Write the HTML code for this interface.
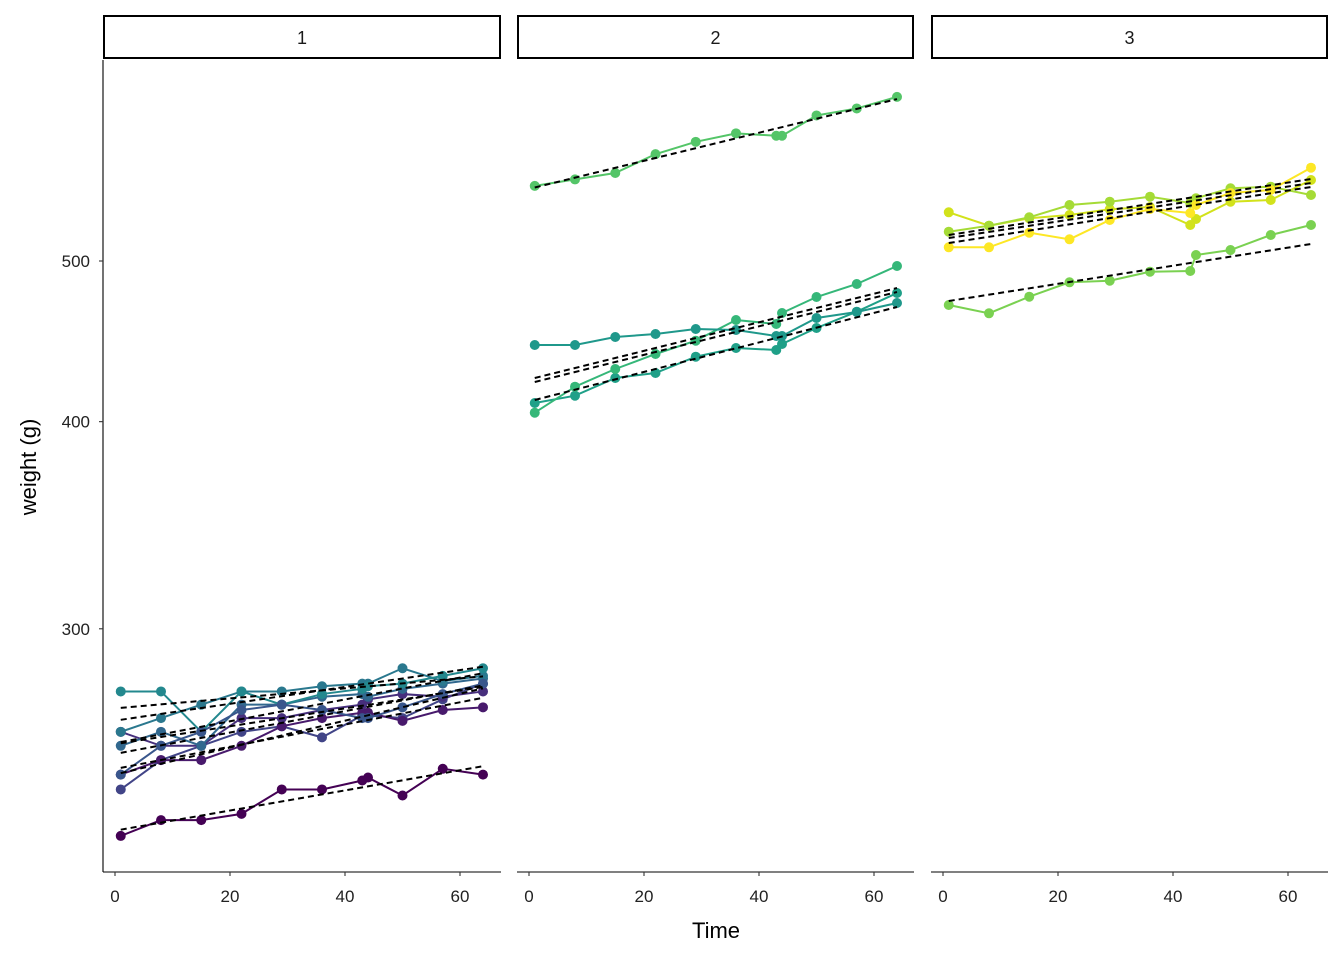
<!DOCTYPE html>
<html><head><meta charset="utf-8">
<style>html,body{margin:0;padding:0;background:#fff}svg{display:block}text{font-family:"Liberation Sans",sans-serif}</style>
</head><body>
<svg id="s" width="1344" height="960" xmlns="http://www.w3.org/2000/svg"></svg>
<script>
const T=[1,8,15,22,29,36,43,44,50,57,64];
const Y=w=>261-720*Math.log(w/500);
const D={1:[240,250,255,260,262,258,266,266,265,272,278],2:[225,230,230,232,240,240,243,244,238,247,245],3:[245,250,250,255,262,265,267,267,264,268,269],4:[260,255,255,265,265,268,270,272,274,273,275],5:[255,260,255,270,270,273,274,273,276,278,280],6:[260,265,270,275,275,277,278,278,284,279,281],7:[275,275,260,275,270,274,276,277,278,281,284],8:[245,255,260,268,270,268,265,265,269,274,278],12:[555,560,565,580,590,597,595,595,612,618,628]};
const P={};
for(const k in D)P[k]=D[k].map(Y);
P[11]=[345,345,337,334,329,330,336,336,318,312,303];
P[9]=[403,395.7,378,373,356.7,348,350,344,328,311.7,293];
P[10]=[412.7,386.7,369,354,340.7,320,324,313,297,284,266];
P[15]=[231.7,225.7,217.3,205,201.7,196.7,203,198.3,188.3,186.7,195];
P[14]=[212.3,225.7,218.3,215,209.3,207,225,219,201.7,200,180];
P[16]=[247.3,247.3,232.7,239.3,220,209,213,205,193,190,167.7];
P[13]=[305,313.3,296.7,282.3,280.7,271.7,271,255,250,235,225];
const FIT={11:[378,288],10:[382,292],9:[400,307],13:[301,244],14:[235,179],15:[238,183],16:[243,187]};
const order=[2,3,4,1,8,5,6,7,11,9,10,12,13,15,14,16];
const pal=["#440154","#481A6C","#472F7D","#414487","#39568C","#31688E","#2A788E","#23888E","#1F988B","#1FA088","#35B779","#54C568","#7AD151","#A5DB36","#D2E21B","#FDE725"];
const col={};order.forEach((r,i)=>col[r]=pal[i]);
const panels=[{x0:103,x1:501,o:115,rats:[1,2,3,4,5,6,7,8],lab:"1"},{x0:517,x1:914,o:529,rats:[9,10,11,12],lab:"2"},{x0:931,x1:1328,o:943,rats:[13,14,15,16],lab:"3"}];
let h='';
h+=`<line x1="103" y1="60" x2="103" y2="872" stroke="#000" stroke-width="1.1"/>`;
[[500,"500"],[400,"400"],[300,"300"]].forEach(([v,l])=>{const y=Y(v);h+=`<line x1="99" y1="${y}" x2="103" y2="${y}" stroke="#333" stroke-width="1.1"/><text x="90" y="${y+6}" font-size="17" text-anchor="end" fill="#222">${l}</text>`;});
h+=`<text transform="translate(36,467) rotate(-90)" font-size="22" text-anchor="middle">weight (g)</text>`;
h+=`<text x="716" y="938" font-size="22" text-anchor="middle">Time</text>`;
panels.forEach(p=>{
 const X=t=>p.o+t*5.75;
 h+=`<rect x="${p.x0+1}" y="16" width="${p.x1-p.x0-2}" height="42" fill="#fff" stroke="#000" stroke-width="2"/><text x="${(p.x0+p.x1)/2}" y="44" font-size="18" text-anchor="middle" fill="#1a1a1a">${p.lab}</text>`;
 h+=`<line x1="${p.x0}" y1="872" x2="${p.x1}" y2="872" stroke="#000" stroke-width="1.1"/>`;
 [0,20,40,60].forEach(t=>{h+=`<line x1="${X(t)}" y1="872" x2="${X(t)}" y2="876" stroke="#333" stroke-width="1.1"/><text x="${X(t)}" y="902" font-size="17" text-anchor="middle" fill="#222">${t}</text>`;});
 p.rats.forEach(r=>{
  const w=P[r],c=col[r];
  h+=`<polyline fill="none" stroke="${c}" stroke-width="2" points="${T.map((t,i)=>X(t)+','+w[i]).join(' ')}"/>`;
  T.forEach((t,i)=>{h+=`<circle cx="${X(t)}" cy="${w[i]}" r="5" fill="${c}"/>`;});
 });
 p.rats.forEach(r=>{
  let y1,y2;
  if(FIT[r]){[y1,y2]=FIT[r];}else{
  const w=P[r],n=T.length;
  const mx=T.reduce((a,b)=>a+b)/n,my=w.reduce((a,b)=>a+b)/n;
  let sxy=0,sxx=0;T.forEach((t,i)=>{sxy+=(t-mx)*(w[i]-my);sxx+=(t-mx)*(t-mx);});
  const b=sxy/sxx,a=my-b*mx;y1=a+b;y2=a+b*64;}
  h+=`<line x1="${X(1)}" y1="${y1}" x2="${X(64)}" y2="${y2}" stroke="#000" stroke-width="2" stroke-dasharray="6,4"/>`;
 });
});
document.getElementById('s').innerHTML=h;
</script>
</body></html>
